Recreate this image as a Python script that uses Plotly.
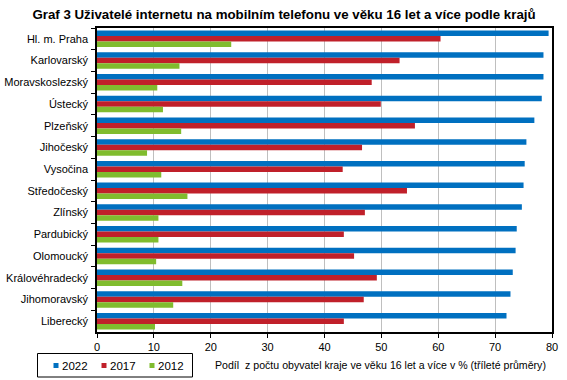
import plotly.graph_objects as go

regions = ["Hl. m. Praha", "Karlovarský", "Moravskoslezský", "Ústecký", "Plzeňský",
           "Jihočeský", "Vysočina", "Středočeský", "Zlínský", "Pardubický",
           "Olomoucký", "Královéhradecký", "Jihomoravský", "Liberecký"]
v2022 = [79.4, 78.5, 78.5, 78.2, 76.9, 75.5, 75.2, 75.0, 74.7, 73.8, 73.6, 73.1, 72.7, 72.0]
v2017 = [60.4, 53.2, 48.3, 49.9, 55.9, 46.6, 43.2, 54.5, 47.1, 43.4, 45.2, 49.2, 46.9, 43.4]
v2012 = [23.6, 14.5, 10.6, 11.6, 14.8, 8.8, 11.3, 15.9, 10.8, 10.8, 10.4, 15.0, 13.4, 10.2]
series_names = ["2022", "2017", "2012"]
colors = ["#0070C0", "#C0202A", "#80BC2E"]
x_ticks = [0, 10, 20, 30, 40, 50, 60, 70, 80]

FONT = "Liberation Sans, Arial, sans-serif"

fig = go.Figure()
for name, vals, col in zip(series_names, [v2022, v2017, v2012], colors):
    fig.add_trace(go.Bar(y=regions, x=vals, name=name, orientation="h",
                         marker=dict(color=col, line=dict(width=0)),
                         showlegend=False))

W, H = 567, 380
L, R, T, B = 97, 15, 28, 48
PW, PH = W - L - R, H - T - B


def px_x(x):
    return (x - L) / PW


def px_y(y):
    return (H - B - y) / PH


fig.update_layout(
    width=W, height=H,
    margin=dict(l=L, r=R, t=T, b=B, pad=0, autoexpand=False),
    paper_bgcolor="white", plot_bgcolor="white",
    barmode="group", bargap=0.24, bargroupgap=0,
    font=dict(family=FONT, size=11, color="black"),
    title=dict(text="<b>Graf 3 Uživatelé internetu na mobilním telefonu ve věku 16 let a více podle krajů</b>",
               x=284 / W, xanchor="center", xref="container", y=1 - 14 / H, yanchor="middle",
               font=dict(family=FONT, size=13.3, color="black")),
    showlegend=False,
)
fig.update_xaxes(range=[0, 80], tickvals=x_ticks, showgrid=True, gridcolor="#BFBFBF",
                 gridwidth=1, showline=True, linecolor="black", linewidth=1.5,
                 mirror=True, ticks="outside", ticklen=4, tickcolor="black",
                 zeroline=False, fixedrange=True, tickfont=dict(size=11), automargin=False)
fig.update_yaxes(autorange="reversed", type="category", showline=True, linecolor="black",
                 linewidth=1.5, mirror=True, ticks="outside", ticklen=4, tickcolor="black",
                 tickson="boundaries", showgrid=False, ticklabelstandoff=5,
                 tickfont=dict(size=11), automargin=False, fixedrange=True)

# axis title (placed to the right, as in the reference)
fig.add_annotation(text="Podíl  z počtu obyvatel kraje ve věku 16 let a více v % (tříleté průměry)",
                   xref="paper", yref="paper", x=px_x(380.5), y=px_y(365),
                   xanchor="center", yanchor="middle", showarrow=False,
                   font=dict(family=FONT, size=10.6))

# legend box with small square keys
fig.add_shape(type="rect", xref="paper", yref="paper",
              x0=px_x(37.5), x1=px_x(192.5), y0=px_y(353.5), y1=px_y(377),
              line=dict(color="black", width=1), fillcolor="white", layer="above")
key_x = [53.5, 101.5, 149.5]
for kx, name, col in zip(key_x, series_names, colors):
    fig.add_shape(type="rect", xref="paper", yref="paper",
                  x0=px_x(kx), x1=px_x(kx + 5), y0=px_y(363), y1=px_y(368),
                  line=dict(width=0), fillcolor=col, layer="above")
    fig.add_annotation(text=name, xref="paper", yref="paper",
                       x=px_x(kx + 6.5), y=px_y(365.5), xanchor="left", yanchor="middle",
                       showarrow=False, font=dict(family=FONT, size=11.5))

fig.write_html("out.html", config={"displayModeBar": False})

with open("out.html", encoding="utf-8") as f:
    html = f.read()
html = html.replace("<head>", "<head><style>html,body{margin:0;padding:0;overflow:hidden;}</style>", 1)
with open("out.html", "w", encoding="utf-8") as f:
    f.write(html)
